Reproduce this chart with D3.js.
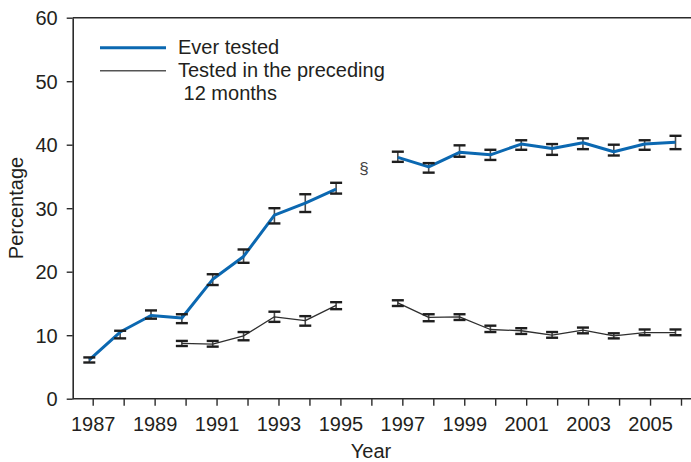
<!DOCTYPE html>
<html><head><meta charset="utf-8">
<script src="https://cdn.jsdelivr.net/npm/d3@7/dist/d3.min.js"></script>
<style>
body{margin:0;background:#fff;}
text{font-family:"Liberation Sans",Arial,sans-serif;fill:#231f20;}
</style></head>
<body><svg id="c" width="691" height="462"></svg>
<script>
const years = d3.range(1987, 2007);
const tickYears = d3.range(1987, 2007);
const tickLabelYears = [1987,1989,1991,1993,1995,1997,1999,2001,2003,2005];
const yTicks = [0,10,20,30,40,50,60];
// Ever tested (null = no data)
const everVal = [6.1,10.5,13.1,12.7,18.8,22.4,28.9,30.8,33.0,null,38.0,36.5,38.8,38.4,40.1,39.4,40.3,38.9,40.1,40.4];
const everLo  = [5.7,9.5,12.6,11.9,17.9,21.4,27.6,29.4,32.3,null,37.3,35.6,38.1,37.6,39.2,38.4,39.3,38.3,39.2,39.3];
const everHi  = [6.5,10.7,13.9,13.3,19.6,23.5,30.0,32.2,34.0,null,38.9,37.1,39.9,39.2,40.7,40.1,41.0,40.0,40.7,41.4];
// Tested in the preceding 12 months
const recVal = [null,null,null,8.7,8.6,9.9,12.9,12.3,14.7,null,15.1,12.8,12.9,10.9,10.7,10.0,10.8,9.9,10.4,10.4];
const recLo  = [null,null,null,8.3,8.2,9.2,12.1,11.5,14.1,null,14.6,12.2,12.4,10.5,10.2,9.6,10.3,9.5,10.0,10.0];
const recHi  = [null,null,null,9.1,9.1,10.5,13.7,13.0,15.2,null,15.5,13.3,13.3,11.5,11.1,10.5,11.2,10.3,10.9,10.9];
const legendLabels = ["Ever tested", "Tested in the preceding", " 12 months"];

const FS = 20;
const svg = d3.select("#c");
const y = d3.scaleLinear().domain([0,60]).range([398.7,17.7]);
const xAxisScale = d3.scaleLinear().domain([1987,2006]).range([92.7,681]);
const xData = d3.scaleLinear().domain([1987,2006]).range([89.3,675.5]);
const axisColor = "#2b2b2b";

// Top border
svg.append("line").attr("x1",72.7).attr("x2",691).attr("y1",y(60)).attr("y2",y(60))
  .attr("stroke",axisColor).attr("stroke-width",1.6);

// Y axis
const yAx = svg.append("g").attr("transform","translate(72.7,0)")
  .call(d3.axisLeft(y).tickValues(yTicks).tickSize(6).tickPadding(9).tickSizeOuter(0));
yAx.select(".domain").attr("stroke",axisColor).attr("stroke-width",1.6);
yAx.selectAll(".tick line").attr("stroke",axisColor).attr("stroke-width",1.4);
yAx.selectAll(".tick text").attr("font-size",FS).attr("fill","#231f20").attr("dy","0.36em")
  .style("font-family","'Liberation Sans',Arial,sans-serif");

// X axis
const xAx = svg.append("g").attr("transform",`translate(0,${y(0)})`)
  .call(d3.axisBottom(xAxisScale).tickValues(tickYears).tickSize(7).tickPadding(11)
    .tickFormat(d => tickLabelYears.includes(d) ? String(d) : "").tickSizeOuter(0));
xAx.select(".domain").attr("d",`M72.7,0H691`).attr("stroke",axisColor).attr("stroke-width",1.6);
xAx.selectAll(".tick line").attr("stroke",axisColor).attr("stroke-width",1.4);
xAx.selectAll(".tick text").attr("font-size",FS).attr("fill","#231f20")
  .style("font-family","'Liberation Sans',Arial,sans-serif");

// Axis titles
svg.append("text").attr("x",371).attr("y",458).attr("text-anchor","middle").attr("font-size",FS).text("Year");
svg.append("text").attr("transform","translate(23,208) rotate(-90)").attr("text-anchor","middle")
  .attr("font-size",FS).text("Percentage");

// Section symbol
svg.append("text").attr("x",364).attr("y",174).attr("text-anchor","middle").attr("font-size",17)
  .style("fill","#444").text("§");

function drawSeries(vals, lo, hi, color, width) {
  const pts = years.map((yr,i)=>({yr, v:vals[i], lo:lo[i], hi:hi[i]}));
  const line = d3.line().defined(d=>d.v!==null).x(d=>xData(d.yr)).y(d=>y(d.v));
  const g = svg.append("g");
  const valid = pts.filter(d=>d.v!==null);
  g.selectAll("line.v").data(valid).join("line").attr("class","v")
    .attr("x1",d=>xData(d.yr)).attr("x2",d=>xData(d.yr))
    .attr("y1",d=>y(d.lo)).attr("y2",d=>y(d.hi))
    .attr("stroke","#4a4a4a").attr("stroke-width",1.6);
  g.append("path").datum(pts).attr("d",line).attr("fill","none")
    .attr("stroke",color).attr("stroke-width",width).attr("stroke-linejoin","round");
  ["lo","hi"].forEach(k=>{
    g.selectAll("line.c"+k).data(valid).join("line").attr("class","c"+k)
      .attr("x1",d=>xData(d.yr)-6).attr("x2",d=>xData(d.yr)+6)
      .attr("y1",d=>y(d[k])).attr("y2",d=>y(d[k]))
      .attr("stroke","#1e1e1e").attr("stroke-width",2.4);
  });
}
drawSeries(recVal, recLo, recHi, "#2f2f2f", 1.3);
drawSeries(everVal, everLo, everHi, "#0b68b1", 3);

// Legend
const lg = svg.append("g");
lg.append("line").attr("x1",100).attr("x2",166).attr("y1",47.7).attr("y2",47.7)
  .attr("stroke","#0b68b1").attr("stroke-width",3);
lg.append("line").attr("x1",100).attr("x2",166).attr("y1",70.7).attr("y2",70.7)
  .attr("stroke","#555").attr("stroke-width",1.5);
lg.append("text").attr("x",178).attr("y",54.3).attr("font-size",FS).text(legendLabels[0]);
lg.append("text").attr("x",178).attr("y",77.3).attr("font-size",FS).text(legendLabels[1]);
lg.append("text").attr("x",178).attr("y",100.3).attr("font-size",FS)
  .style("white-space","pre").text(legendLabels[2]);
</script></body></html>
